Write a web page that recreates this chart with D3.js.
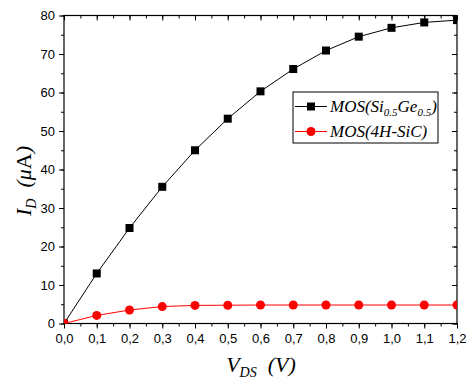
<!DOCTYPE html>
<html><head><meta charset="utf-8">
<script src="https://cdn.jsdelivr.net/npm/d3@7"></script>
<style>body{margin:0;background:#fff}svg{display:block}</style>
</head><body>
<svg id="c" width="466" height="381"></svg>
<script>
const vds = [0.0,0.1,0.2,0.3,0.4,0.5,0.6,0.7,0.8,0.9,1.0,1.1,1.2];
const idSiGe = [0,13.0,24.8,35.5,45.0,53.2,60.3,66.1,70.9,74.5,76.8,78.2,78.8];
const idSiC = [0,2.1,3.5,4.4,4.7,4.75,4.8,4.8,4.8,4.8,4.8,4.8,4.8];
const xTicks = [0.0,0.1,0.2,0.3,0.4,0.5,0.6,0.7,0.8,0.9,1.0,1.1,1.2];
const yTicks = [0,10,20,30,40,50,60,70,80];

const svg = d3.select("#c");
const L=64, R=457, T=15.5, B=323.5;
const x = d3.scaleLinear().domain([0,1.2]).range([L,R]);
const y = d3.scaleLinear().domain([0,80]).range([B,T]);
const fmt = d => d3.format(".1f")(d).replace(".", ",");
const serif = "Liberation Serif";

svg.append("defs").append("clipPath").attr("id","clip")
  .append("rect").attr("x",L).attr("y",T).attr("width",R-L).attr("height",B-T);

const xMinor = d3.range(0,1.2001,0.05);
const yMinor = d3.range(0,80.01,5);

svg.append("g").attr("transform",`translate(0,${B})`)
  .call(d3.axisBottom(x).tickValues(xMinor).tickFormat("").tickSize(3));
svg.append("g").attr("transform",`translate(0,${B})`)
  .call(d3.axisBottom(x).tickValues(xTicks).tickFormat(fmt).tickSize(5).tickPadding(5));
svg.append("g").attr("transform",`translate(0,${T})`)
  .call(d3.axisBottom(x).tickValues(xMinor).tickFormat("").tickSize(3));
svg.append("g").attr("transform",`translate(0,${T})`)
  .call(d3.axisBottom(x).tickValues(xTicks).tickFormat("").tickSize(5));
svg.append("g").attr("transform",`translate(${L},0)`)
  .call(d3.axisLeft(y).tickValues(yMinor).tickFormat("").tickSize(3));
svg.append("g").attr("transform",`translate(${L},0)`)
  .call(d3.axisLeft(y).tickValues(yTicks).tickSize(5).tickPadding(4));
svg.append("g").attr("transform",`translate(${R},0)`)
  .call(d3.axisLeft(y).tickValues(yMinor).tickFormat("").tickSize(3));
svg.append("g").attr("transform",`translate(${R},0)`)
  .call(d3.axisLeft(y).tickValues(yTicks).tickFormat("").tickSize(5));

svg.selectAll(".domain").remove();
svg.selectAll(".tick line").attr("stroke","#000").attr("stroke-width",1);
svg.selectAll(".tick text").attr("font-family","Liberation Sans")
  .attr("font-size",13).attr("fill","#000");

svg.append("rect").attr("x",L).attr("y",T).attr("width",R-L).attr("height",B-T)
  .attr("fill","none").attr("stroke","#000").attr("stroke-width",1.2);

const plot = svg.append("g").attr("clip-path","url(#clip)");
const line = d3.line().x((d,i)=>x(vds[i])).y(d=>y(d));
plot.append("path").datum(idSiGe).attr("d",line).attr("fill","none").attr("stroke","#000").attr("stroke-width",1);
plot.append("path").datum(idSiC).attr("d",line).attr("fill","none").attr("stroke","#ff0000").attr("stroke-width",1);
plot.selectAll(".sq").data(idSiGe).enter().append("rect")
  .attr("x",(d,i)=>x(vds[i])-4).attr("y",d=>y(d)-4).attr("width",8).attr("height",8).attr("fill","#000");
plot.selectAll(".ci").data(idSiC).enter().append("circle")
  .attr("cx",(d,i)=>x(vds[i])).attr("cy",d=>y(d)).attr("r",4.5).attr("fill","#ff0000");

// Legend
const lg = svg.append("g");
lg.append("rect").attr("x",293).attr("y",92).attr("width",145).attr("height",51)
  .attr("fill","#fff").attr("stroke","#000").attr("stroke-width",1);
lg.append("line").attr("x1",295).attr("x2",327).attr("y1",106.5).attr("y2",106.5).attr("stroke","#000");
lg.append("rect").attr("x",307).attr("y",102.5).attr("width",8).attr("height",8).attr("fill","#000");
lg.append("line").attr("x1",295).attr("x2",327).attr("y1",131.5).attr("y2",131.5).attr("stroke","#ff0000");
lg.append("circle").attr("cx",311).attr("cy",131.5).attr("r",4.5).attr("fill","#ff0000");
const t1 = lg.append("text").attr("x",330).attr("y",112).attr("font-family",serif)
  .attr("font-style","italic").attr("font-size",17);
t1.append("tspan").text("MOS(Si");
t1.append("tspan").attr("font-size",11).attr("dy",4).text("0.5");
t1.append("tspan").attr("dy",-4).text("Ge");
t1.append("tspan").attr("font-size",11).attr("dy",4).text("0.5");
t1.append("tspan").attr("dy",-4).text(")");
lg.append("text").attr("x",330).attr("y",137).attr("font-family",serif)
  .attr("font-style","italic").attr("font-size",17).text("MOS(4H-SiC)");

// Axis titles
const xt = svg.append("text").attr("x",261).attr("y",372).attr("text-anchor","middle")
  .attr("font-family",serif).attr("font-style","italic").attr("font-size",22);
xt.append("tspan").text("V");
xt.append("tspan").attr("font-size",14).attr("dy",5).text("DS");
xt.append("tspan").attr("dy",-5).text("\u00a0 (V)");

const yt = svg.append("text").attr("transform","translate(31,181) rotate(-90)").attr("text-anchor","middle")
  .attr("font-family",serif).attr("font-style","italic").attr("font-size",22);
yt.append("tspan").text("I");
yt.append("tspan").attr("font-size",14).attr("dy",5).text("D");
yt.append("tspan").attr("dy",-5).text("\u00a0 (\u03bc");
yt.append("tspan").attr("font-style","normal").text("A");
yt.append("tspan").text(")");
</script>
</body></html>
